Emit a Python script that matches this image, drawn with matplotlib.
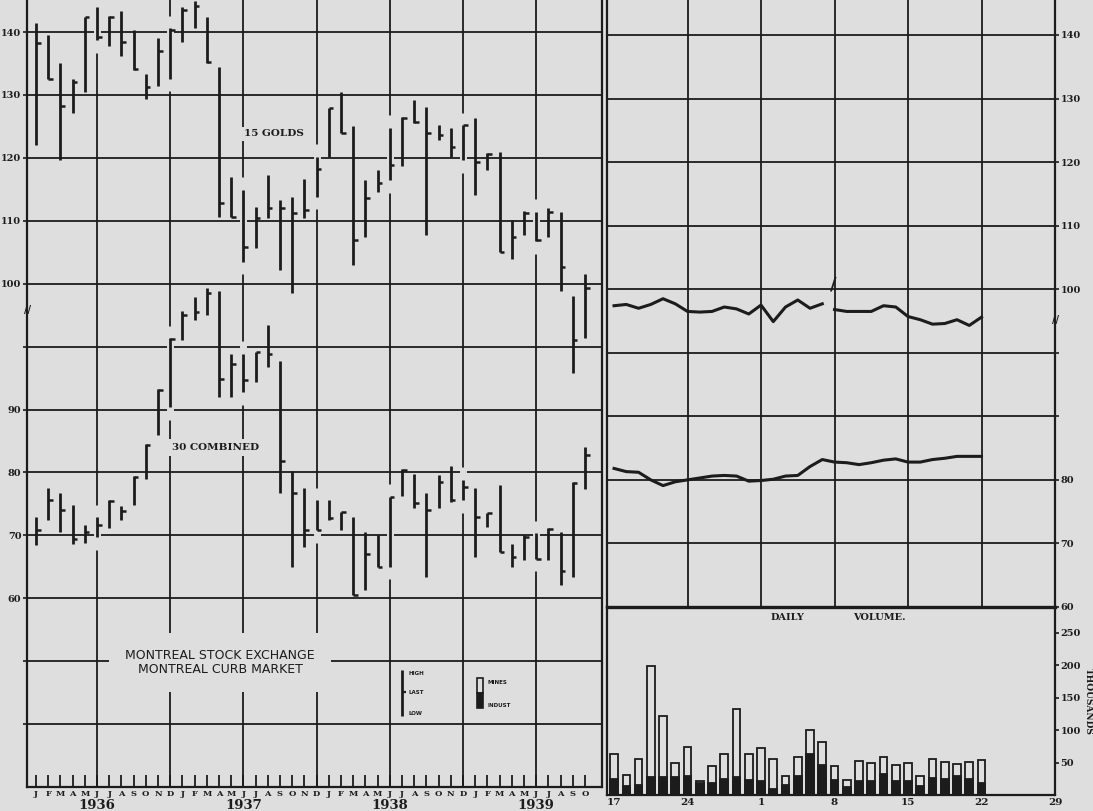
import matplotlib.pyplot as plt

# monthly bars, Jan 1936 .. Oct 1939
months = list("JFMAMJJASOND") * 3 + list("JFMAMJJASO")
years = ["1936", "1937", "1938", "1939"]

golds_high = [141.5, 139.5, 135.1, 132.6, 142.4, 144.0, 142.5, 143.4, 140.3, 133.3, 139.0, 140.6,
              144.0, 145.0, 142.4, 134.5, 117.0, 114.9, 112.2, 117.3, 113.3, 113.8, 116.7, 120.2,
              127.9, 130.4, 125.1, 116.5, 118.0, 124.8, 126.5, 129.2, 128.1, 125.2, 124.7, 125.2,
              126.3, 120.8, 121.0, 110.1, 111.6, 111.4, 112.0, 111.4, 98.0, 101.6]
golds_low = [122.0, 132.6, 119.6, 127.1, 130.5, 138.7, 137.8, 136.2, 134.0, 129.3, 131.4, 132.6,
             138.5, 140.6, 135.1, 110.6, 110.6, 103.5, 105.6, 110.4, 102.2, 98.5, 110.4, 113.8,
             120.2, 123.9, 103.0, 107.4, 114.6, 116.5, 118.7, 125.6, 107.7, 122.9, 120.2, 119.6,
             114.1, 118.0, 105.1, 104.0, 107.7, 106.8, 107.5, 98.9, 85.8, 91.4]
golds_last = [138.2, 132.6, 128.2, 132.1, 142.4, 139.2, 142.4, 138.5, 134.2, 131.2, 137.0, 140.4,
              143.5, 144.2, 135.3, 112.8, 110.6, 105.9, 110.4, 112.1, 112.0, 111.2, 111.7, 118.3,
              127.9, 123.9, 106.9, 113.7, 116.0, 118.9, 126.3, 125.7, 123.9, 123.6, 121.8, 125.2,
              119.4, 120.6, 105.1, 107.4, 111.2, 106.9, 111.4, 102.7, 91.0, 99.3]

comb_high = [72.9, 77.5, 76.8, 74.8, 71.6, 72.9, 75.6, 74.6, 79.4, 84.5, 93.2, 101.3,
             105.6, 107.9, 109.3, 108.9, 98.9, 98.9, 99.2, 103.4, 97.7, 80.3, 77.5, 75.6,
             75.6, 73.7, 72.9, 70.6, 70.0, 76.1, 80.5, 79.8, 76.8, 79.6, 81.1, 78.8,
             77.5, 73.5, 78.0, 68.7, 70.0, 70.3, 71.1, 70.6, 78.5, 84.1]
comb_low = [68.4, 72.4, 70.6, 68.7, 68.8, 69.7, 71.1, 72.5, 74.8, 79.0, 85.9, 90.4,
            101.1, 104.2, 105.0, 92.0, 92.0, 92.8, 94.4, 96.8, 76.8, 65.0, 68.2, 70.8,
            72.4, 70.8, 60.5, 61.3, 65.0, 65.0, 76.2, 74.3, 63.4, 74.3, 75.3, 75.6,
            66.6, 71.4, 67.4, 65.0, 66.1, 66.3, 66.1, 62.1, 63.4, 77.3]
comb_last = [70.9, 75.6, 74.0, 69.5, 70.6, 71.6, 75.4, 73.9, 79.3, 84.3, 93.1, 101.2,
             105.0, 105.5, 108.5, 94.9, 97.3, 94.7, 99.2, 98.9, 81.8, 76.8, 70.9, 70.8,
             72.7, 73.7, 60.5, 67.0, 65.0, 76.1, 80.4, 75.1, 74.0, 78.5, 75.6, 77.7,
             72.9, 73.5, 67.4, 66.6, 69.8, 66.3, 71.0, 64.4, 78.4, 82.7]

# daily, Sept 18 .. Oct 21 1939 (6 sessions a week)
week_labels = ["17", "24", "1", "8", "15", "22", "29"]
golds_daily = [97.4, 97.6, 97.0, 97.6, 98.5, 97.7, 96.5, 96.4, 96.5, 97.2, 96.9, 96.1,
               97.5, 94.9, 97.2, 98.3, 97.0, 97.7, 96.8, 96.5, 96.5, 96.5, 97.4, 97.2,
               95.7, 95.2, 94.5, 94.6, 95.2, 94.3, 95.6]
comb_daily = [81.8, 81.3, 81.2, 80.0, 79.1, 79.7, 80.0, 80.3, 80.6, 80.7, 80.6, 79.8,
              79.9, 80.1, 80.6, 80.7, 82.1, 83.2, 82.8, 82.7, 82.4, 82.7, 83.1, 83.3,
              82.8, 82.8, 83.2, 83.4, 83.7, 83.7, 83.7]
vol_indust = [24, 14, 16, 28, 28, 28, 30, 18, 18, 25, 27, 23, 22, 9, 15, 30, 63, 47, 23, 13,
              21, 22, 33, 22, 22, 14, 26, 25, 30, 25, 19]
vol_mines = [39, 17, 39, 171, 94, 22, 44, 4, 27, 39, 105, 41, 51, 47, 15, 29, 38, 34, 21, 10,
             32, 28, 26, 24, 28, 16, 29, 26, 18, 26, 35]

BG = "#dedede"
INK = "#1c1c1c"
SERIF = "DejaVu Serif"
COMB_SHIFT = 10  # combined index drawn 10 points lower on the broken scale

W, H = 1093, 811
fig = plt.figure(figsize=(W / 100, H / 100), dpi=100)
fig.patch.set_facecolor(BG)

# ---------------- monthly panel ----------------
ax = fig.add_axes([27 / W, (H - 787) / H, 575 / W, 787 / H])
ax.set_facecolor(BG)
ax.set_xlim(-0.74, 46.4)
ax.set_ylim(20, 145.1)
for s in ["left", "bottom", "right"]:
    ax.spines[s].set_color(INK)
    ax.spines[s].set_linewidth(1.6)
ax.spines["top"].set_visible(False)

yt = [140, 130, 120, 110, 100, 90, 80, 70, 60, 50, 40, 30]
ylab = ["140", "130", "120", "110", "100", "", "90", "80", "70", "60", "", ""]
ax.set_yticks(yt)
ax.set_yticklabels(ylab, fontfamily=SERIF, fontweight="bold", fontsize=7, color=INK)
ax.tick_params(axis="y", length=3, width=1.2, pad=1, color=INK)
ax.grid(axis="y", color=INK, linewidth=1.3)
ax.set_axisbelow(True)

ax.set_xticks(range(len(months)))
ax.set_xticklabels(months, fontfamily=SERIF, fontweight="bold", fontsize=6, color=INK)
ax.tick_params(axis="x", direction="in", length=9, width=1.3, pad=2, color=INK)

grid_months = [m for m in range(len(months)) if m % 6 == 5]
for m in grid_months:
    ax.axvline(m, color=INK, linewidth=1.3, zorder=1)

for i, y in enumerate(years):
    ax.text(12 * i + 5, -0.0235, y, transform=ax.get_xaxis_transform(), ha="center",
            va="center", fontfamily=SERIF, fontweight="bold", fontsize=9.5, color=INK)


def draw_bars(axis, highs, lows, lasts, shift=0):
    for m, (hi, lo, la) in enumerate(zip(highs, lows, lasts)):
        hi, lo, la = hi - shift, lo - shift, la - shift
        if m in grid_months:
            axis.vlines(m, lo - 2.0, hi + 2.0, color=BG, linewidth=5, zorder=2)
        axis.vlines(m, lo, hi, color=INK, linewidth=2.0, zorder=3)
        axis.hlines(la, m, m + 0.38, color=INK, linewidth=1.8, zorder=3)


draw_bars(ax, golds_high, golds_low, golds_last)
draw_bars(ax, comb_high, comb_low, comb_last, shift=COMB_SHIFT)

ax.text(19.5, 123.8, "15 GOLDS", ha="center", va="center", fontfamily=SERIF,
        fontweight="bold", fontsize=7.5, color=INK, zorder=4,
        bbox=dict(boxstyle="square,pad=0.25", facecolor=BG, edgecolor="none"))
ax.text(14.75, 74.0, "30 COMBINED", ha="center", va="center", fontfamily=SERIF,
        fontweight="bold", fontsize=7.5, color=INK, zorder=4,
        bbox=dict(boxstyle="square,pad=0.4", facecolor=BG, edgecolor="none"))
ax.text(15.1, 39.8, "MONTREAL STOCK EXCHANGE\nMONTREAL CURB MARKET", ha="center",
        va="center", fontfamily="DejaVu Sans", fontsize=9, color=INK, linespacing=1.1,
        zorder=4, bbox=dict(boxstyle="square,pad=1.3", facecolor=BG, edgecolor="none"))

# legend glyphs
ax.vlines(30.0, 31.3, 38.6, color=INK, linewidth=2.0, zorder=3)
ax.hlines(35.1, 30.0, 30.35, color=INK, linewidth=1.6, zorder=3)
for yy, t in [(38.1, "HIGH"), (35.1, "LAST"), (31.7, "LOW")]:
    ax.text(30.5, yy, t, fontsize=4, fontweight="bold", va="center", color=INK)
ax.bar(36.4, 2.4, bottom=34.9, width=0.45, facecolor=BG, edgecolor=INK, linewidth=1.2, zorder=3)
ax.bar(36.4, 2.4, bottom=32.5, width=0.45, facecolor=INK, edgecolor=INK, linewidth=1.2, zorder=3)
ax.text(37.0, 36.6, "MINES", fontsize=4, fontweight="bold", va="center", color=INK)
ax.text(37.0, 33.0, "INDUST", fontsize=4, fontweight="bold", va="center", color=INK)

ax.text(0, 95.8, "//", transform=ax.get_yaxis_transform(), ha="center", va="center",
        fontsize=7, fontweight="bold", color=INK)

# ---------------- daily price panel ----------------
axp = fig.add_axes([607 / W, (H - 607) / H, 448 / W, 607 / H])
axp.set_facecolor(BG)
axp.set_xlim(-0.67, 42)
axp.set_ylim(50, 145.5)
axp.spines["top"].set_visible(False)
axp.spines["bottom"].set_visible(False)
for s in ["left", "right"]:
    axp.spines[s].set_color(INK)
    axp.spines[s].set_linewidth(1.6)
rt = [140, 130, 120, 110, 100, 90, 80, 70, 60, 50]
rlab = ["140", "130", "120", "110", "100", "", "", "80", "70", "60"]
axp.yaxis.tick_right()
axp.set_yticks(rt)
axp.set_yticklabels(rlab, fontfamily=SERIF, fontweight="bold", fontsize=7, color=INK)
axp.tick_params(axis="y", length=3, width=1.2, pad=1, color=INK)
axp.grid(axis="y", color=INK, linewidth=1.3)
axp.set_axisbelow(True)
axp.set_xticks([])
for wk in range(1, len(week_labels) - 1):
    axp.axvline(7 * wk, color=INK, linewidth=1.3, zorder=1)

sess_x = [k * 7 / 6 for k in range(len(golds_daily))]
brk = 18
axp.plot(sess_x[:brk], golds_daily[:brk], color=INK, linewidth=2.2, zorder=3)
axp.plot(sess_x[brk:], golds_daily[brk:], color=INK, linewidth=2.2, zorder=3)
axp.plot(sess_x, [c - COMB_SHIFT for c in comb_daily], color=INK, linewidth=2.2, zorder=3)
axp.text(20.9, 100.8, "/", ha="center", va="center", fontsize=13, fontweight="bold", color=INK)
axp.text(1, 95.2, "//", transform=axp.get_yaxis_transform(), ha="center", va="center",
         fontsize=7, fontweight="bold", color=INK)

# ---------------- daily volume panel ----------------
axv = fig.add_axes([607 / W, (H - 795) / H, 448 / W, 188 / H])
axv.set_facecolor(BG)
axv.set_xlim(-0.67, 42)
axv.set_ylim(0, 290)
for s in axv.spines.values():
    s.set_color(INK)
    s.set_linewidth(1.6)
axv.spines["top"].set_linewidth(2.4)
vol_total = [a + b for a, b in zip(vol_indust, vol_mines)]
axv.bar(sess_x, vol_total, width=0.72, facecolor=BG, edgecolor=INK, linewidth=1.3)
axv.bar(sess_x, vol_indust, width=0.72, facecolor=INK, edgecolor=INK, linewidth=1.3)
axv.yaxis.tick_right()
axv.set_yticks([50, 100, 150, 200, 250])
axv.set_yticklabels(["50", "100", "150", "200", "250"], fontfamily=SERIF,
                    fontweight="bold", fontsize=7, color=INK)
axv.tick_params(axis="y", length=3, width=1.2, pad=1, color=INK)
axv.set_xticks([7 * i for i in range(len(week_labels))])
axv.set_xticklabels(week_labels, fontfamily=SERIF, fontweight="bold", fontsize=7.5, color=INK)
axv.tick_params(axis="x", length=0, pad=2)
axv.text(1.075, 0.5, "THOUSANDS", transform=axv.transAxes, rotation=-90, ha="center",
         va="center", fontfamily=SERIF, fontweight="bold", fontsize=6.5, color=INK)
axv.text(16.5, 0.945, "DAILY", transform=axv.get_xaxis_transform(), ha="center",
         va="center", fontfamily=SERIF, fontweight="bold", fontsize=7, color=INK)
axv.text(25.3, 0.945, "VOLUME.", transform=axv.get_xaxis_transform(), ha="center",
         va="center", fontfamily=SERIF, fontweight="bold", fontsize=7, color=INK)

fig.savefig("out.png", dpi=100, facecolor=BG)
